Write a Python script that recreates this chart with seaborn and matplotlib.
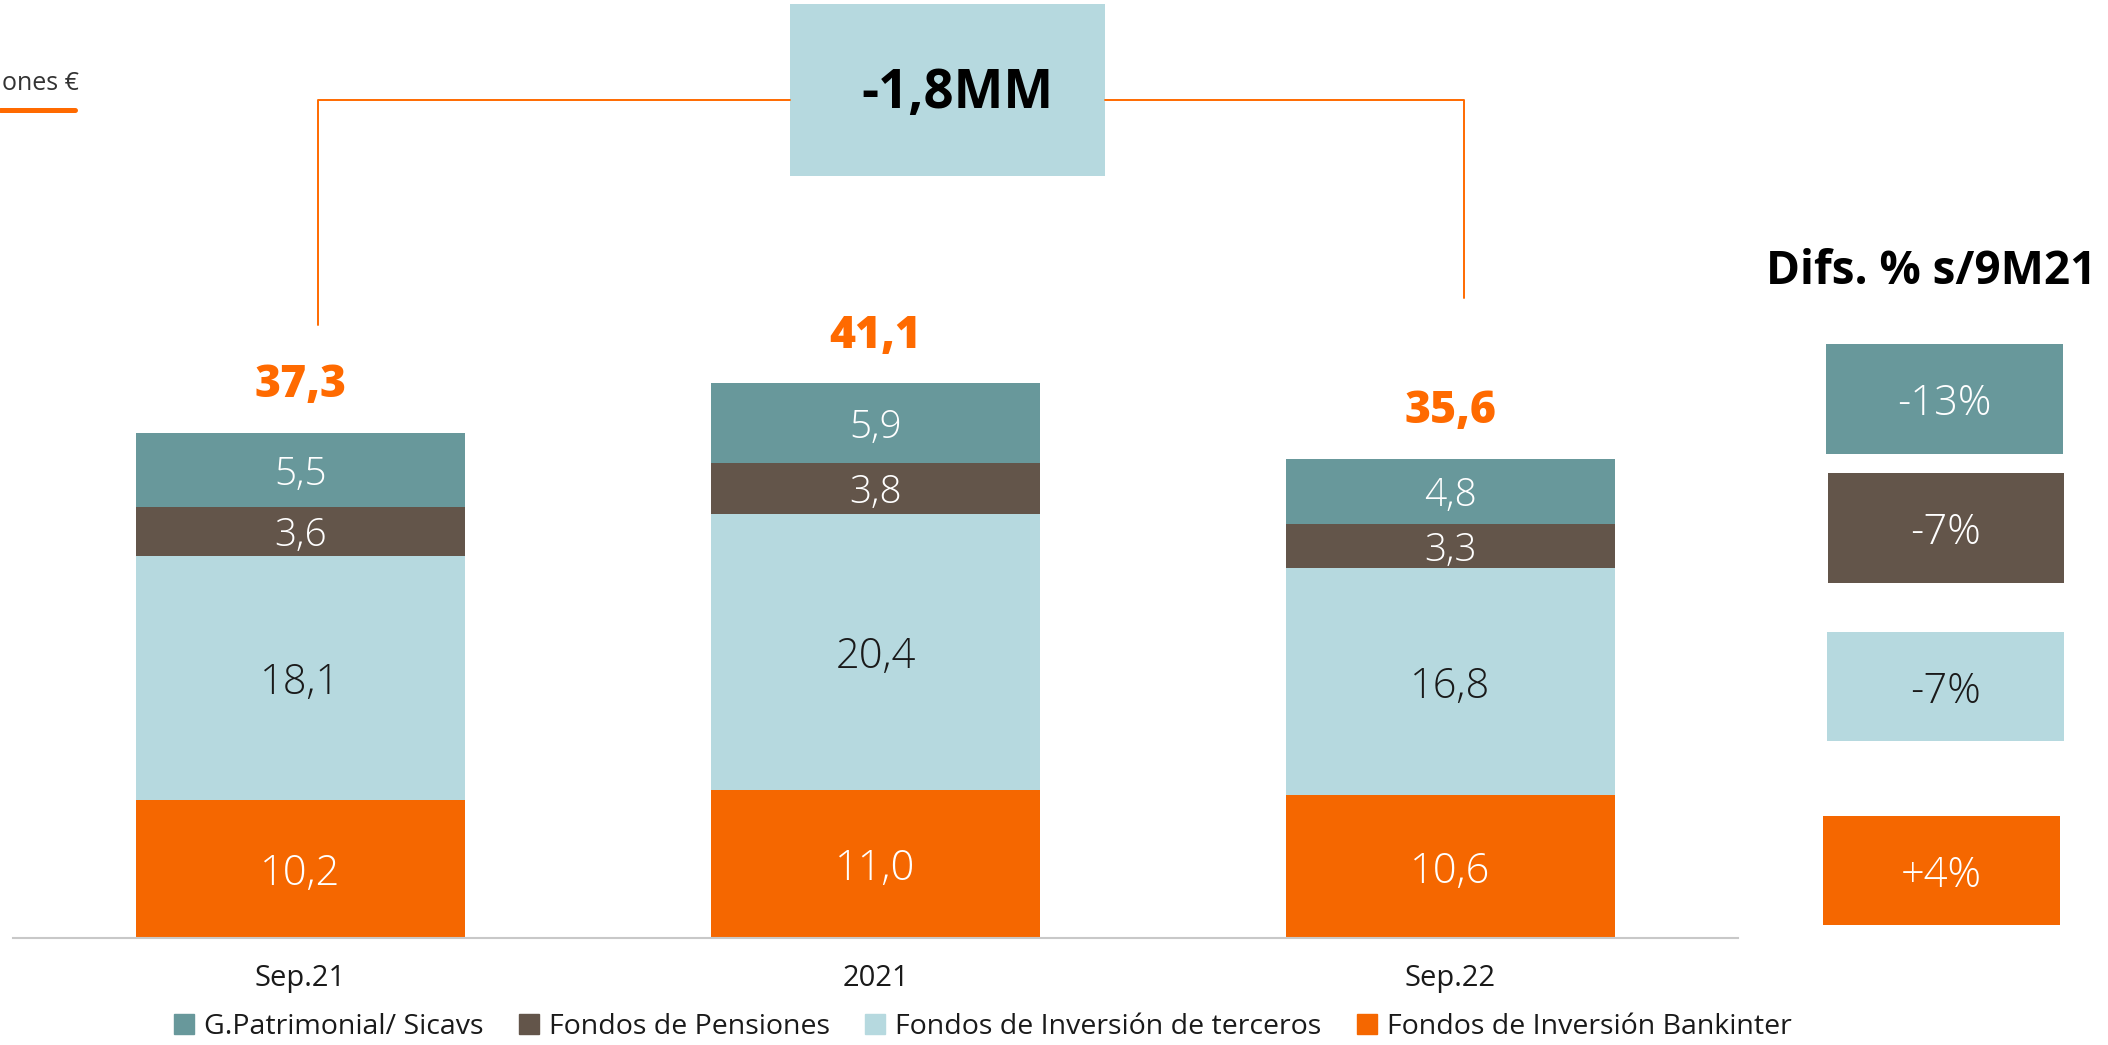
"""
Patrimonio gestionado: barras apiladas Sep.21 / 2021 / Sep.22
"""

import matplotlib
matplotlib.use("Agg")
import matplotlib.pyplot as plt
from matplotlib.lines import Line2D
from matplotlib.patches import Rectangle
import seaborn as sns

# Data
periods = ['Sep.21', '2021', 'Sep.22']
bankinter = [10.2, 11.0, 10.6]
terceros = [18.1, 20.4, 16.8]
pensiones = [3.6, 3.8, 3.3]
sicavs = [5.5, 5.9, 4.8]
totals = [37.3, 41.1, 35.6]
series_names = ['G.Patrimonial/ Sicavs', 'Fondos de Pensiones',
                'Fondos de Inversión de terceros', 'Fondos de Inversión Bankinter']
diffs = ['-13%', '-7%', '-7%', '+4%']
change_label = '-1,8MM'
unit_label = 'ones €'
diff_title = 'Difs. % s/9M21'

# Colours
TEAL = '#68989B'
BROWN = '#63554A'
LIGHT = '#B6D9DF'
ORANGE = '#F56700'
ORANGE_TXT = '#FF6A00'

sns.set_style("white")
plt.rcParams['font.family'] = ['Open Sans', 'DejaVu Sans']

W, H = 2108, 1045


def fx(x):
    return x / W


def fy(y):
    return 1 - y / H


def fmt(v):
    return f"{v:.1f}".replace('.', ',')


fig = plt.figure(figsize=(W / 100, H / 100), dpi=100)
ax = fig.add_axes([fx(13), fy(938), fx(1738) - fx(13), fy(0) - fy(938)])

# stacked bars: draw cumulative tops, largest first
layers = [(bankinter, ORANGE), (terceros, LIGHT), (pensiones, BROWN), (sicavs, TEAL)]
cum = []
run = [0.0] * len(periods)
for vals, col in layers:
    bottoms = list(run)
    run = [r + v for r, v in zip(run, vals)]
    cum.append((bottoms, list(run), vals, col))

for bottoms, tops, vals, col in reversed(cum):
    sns.barplot(x=periods, y=tops, color=col, width=0.572, errorbar=None,
                saturation=1, ax=ax, linewidth=0)

for bottoms, tops, vals, col in cum:
    txt_col = '#1a1a1a' if col == LIGHT else 'white'
    size = 30 if max(vals) > 8 else 28
    for i, (b, v) in enumerate(zip(bottoms, vals)):
        ax.text(i, b + v / 2, fmt(v), ha='center', va='center_baseline',
                color=txt_col, fontsize=size, fontweight='light')

for i, (t, tot) in enumerate(zip(cum[-1][1], totals)):
    ax.text(i, t + 3.9, fmt(tot), ha='center', va='center_baseline',
            color=ORANGE_TXT, fontsize=32, fontweight='heavy')

ax.set_xlim(-0.5, 2.5)
ax.set_ylim(0, 938 / 13.5)
ax.set_yticks([])
ax.set_ylabel('')
ax.set_xlabel('')
for s in ['top', 'right', 'left']:
    ax.spines[s].set_visible(False)
ax.spines['bottom'].set_color('#C8C8C8')
ax.spines['bottom'].set_linewidth(1.5)
ax.tick_params(axis='x', length=0, pad=19, labelsize=21, labelcolor='#1a1a1a')

# bracket and change box
bracket = dict(color=ORANGE_TXT, lw=1.4, transform=fig.transFigure)
fig.add_artist(Line2D([fx(318), fx(318), fx(790)], [fy(325), fy(100), fy(100)], **bracket))
fig.add_artist(Line2D([fx(1105), fx(1464), fx(1464)], [fy(100), fy(100), fy(298)], **bracket))
fig.add_artist(Rectangle((fx(790), fy(176)), fx(1105) - fx(790), fy(4) - fy(176),
                         color=LIGHT, transform=fig.transFigure, lw=0))
fig.text(fx(957), fy(94), change_label, ha='center', va='center',
         fontsize=38, fontweight='bold', color='black')

# unit label
fig.text(fx(2), fy(90), unit_label, ha='left', va='baseline', fontsize=18, color='#333333')
fig.add_artist(Line2D([0, fx(75)], [fy(109.5), fy(109.5)], color=ORANGE_TXT, lw=3.6,
                      transform=fig.transFigure))

# diff boxes on the right
fig.text(fx(1931), fy(272), diff_title, ha='center', va='center',
         fontsize=33, fontweight='bold', color='black')
boxes = [(1826, 344, 2063, 454), (1828, 473, 2064, 583),
         (1827, 632, 2064, 741), (1823, 816, 2060, 925)]
box_cols = [TEAL, BROWN, LIGHT, ORANGE]
for (x0, y0, x1, y1), col, d in zip(boxes, box_cols, diffs):
    fig.add_artist(Rectangle((fx(x0), fy(y1)), fx(x1) - fx(x0), fy(y0) - fy(y1),
                             color=col, transform=fig.transFigure, lw=0))
    tc = '#1a1a1a' if col == LIGHT else 'white'
    fig.text(fx((x0 + x1) / 2), fy((y0 + y1) / 2), d, ha='center', va='center_baseline',
             fontsize=30, fontweight='light', color=tc)

# legend
handles = [Line2D([], [], marker='s', linestyle='', color=c, markersize=14)
           for c in [TEAL, BROWN, LIGHT, ORANGE]]
fig.legend(handles, series_names, loc='center', bbox_to_anchor=(fx(982), fy(1027)),
           ncol=4, frameon=False, fontsize=20.5, handlelength=0.8, handletextpad=0.3,
           columnspacing=1.2, labelcolor='#1a1a1a')

fig.savefig('out.png', dpi=100)
print("saved out.png")
